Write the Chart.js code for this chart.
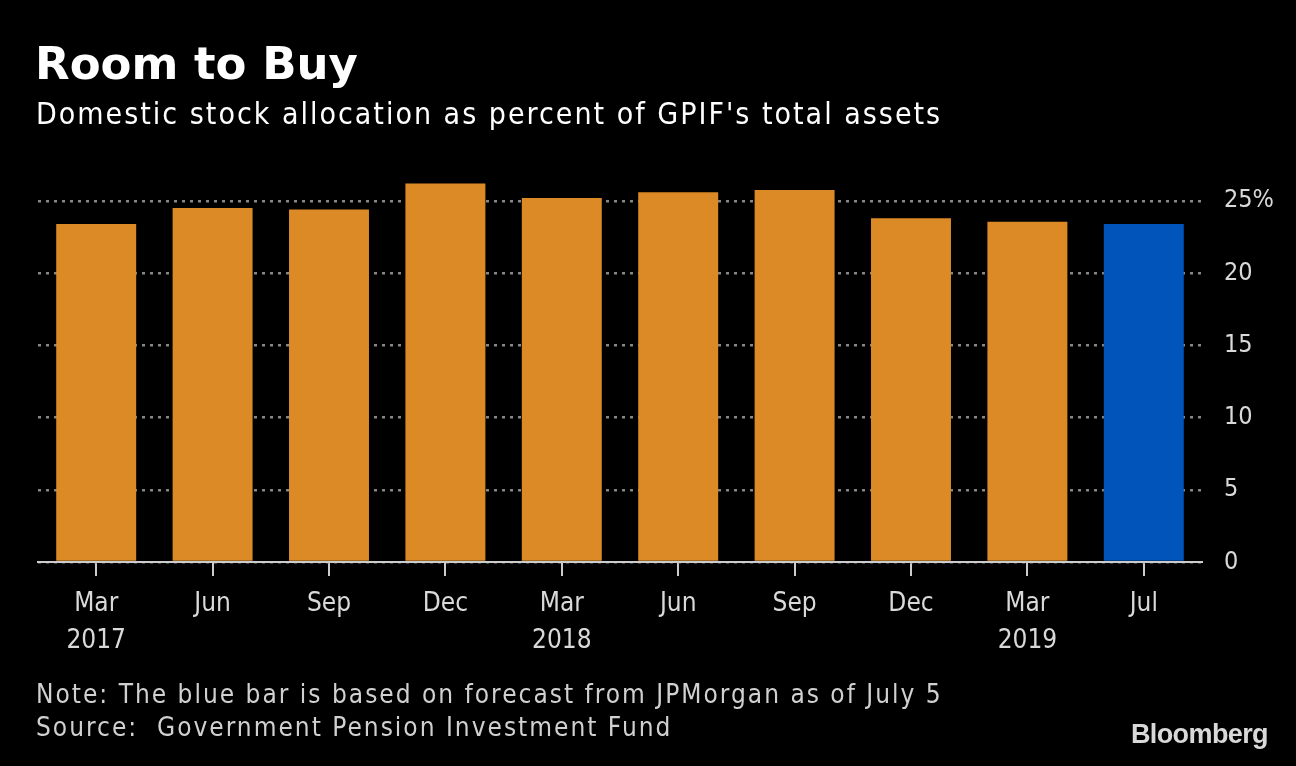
<!DOCTYPE html>
<html>
<head>
<meta charset="utf-8">
<script src="https://cdn.jsdelivr.net/npm/chart.js@4/dist/chart.umd.min.js"></script>
<style>
  html,body{margin:0;padding:0;background:#000;width:1296px;height:766px;overflow:hidden;}
  #wrap{position:absolute;left:0;top:0;width:1296px;height:766px;}
  .t{position:absolute;color:#fff;white-space:nowrap;font-family:"DejaVu Sans Condensed","DejaVu Sans",sans-serif;}
  #title{left:35px;top:37px;font-size:45px;font-weight:bold;font-family:"DejaVu Sans","Liberation Sans",sans-serif;}
  #sub{left:36px;top:96px;font-size:30px;letter-spacing:2px;}
  #note{left:36px;top:678px;font-size:26px;color:#d0d0d0;line-height:33px;letter-spacing:2px;}
  #logo{right:28px;top:719px;font-size:27px;font-weight:bold;color:#d9d9d9;font-family:"Liberation Sans",Arial,sans-serif;letter-spacing:-0.6px;}
</style>
</head>
<body>
<div id="wrap"><canvas id="c" width="1296" height="766"></canvas></div>
<div class="t" id="title">Room to Buy</div>
<div class="t" id="sub">Domestic stock allocation as percent of GPIF's total assets</div>
<div class="t" id="note">Note: The blue bar is based on forecast from JPMorgan as of July 5<br>Source:&nbsp; Government Pension Investment Fund</div>
<div class="t" id="logo">Bloomberg</div>
<script>
const months = ["Mar","Jun","Sep","Dec","Mar","Jun","Sep","Dec","Mar","Jul"];
const years  = ["2017","","","","2018","","","","2019",""];
const allocation = [23.4, 24.5, 24.4, 26.2, 25.2, 25.6, 25.75, 23.8, 23.55, 23.4];
const barColors = ["#DB8A26","#DB8A26","#DB8A26","#DB8A26","#DB8A26","#DB8A26","#DB8A26","#DB8A26","#DB8A26","#0054BA"];
const yTicks = [0,5,10,15,20,25];

const labels = months.map((m,i)=> years[i] ? [m, years[i]] : [m]);
const FONT = '"DejaVu Sans Condensed","DejaVu Sans",sans-serif';

new Chart(document.getElementById('c'), {
  type: 'bar',
  data: {
    labels: labels,
    datasets: [{
      data: allocation,
      backgroundColor: barColors,
      borderWidth: 0,
      barPercentage: 0.687,
      categoryPercentage: 1.0
    }]
  },
  options: {
    responsive: false,
    animation: false,
    devicePixelRatio: 1,
    layout: { padding: { left: 38, top: 172, right: 0, bottom: 104 } },
    plugins: { legend: { display: false }, tooltip: { enabled: false } },
    scales: {
      x: {
        offset: true,
        grid: { display: true, drawOnChartArea: false, drawTicks: true, tickLength: 14, color: '#cccccc', lineWidth: 2, offset: false },
        border: { display: true, color: '#cccccc', width: 2 },
        ticks: { color: '#d9d9d9', font: { family: FONT, size: 26, lineHeight: 1.45 }, padding: 9, maxRotation: 0, autoSkip: false },
        afterFit: (s) => { s.height = 100; }
      },
      y: {
        position: 'right',
        min: 0,
        max: 27,
        afterBuildTicks: (s) => { s.ticks = yTicks.map(v => ({ value: v })); },
        grid: { display: true, drawTicks: false, color: '#858585', lineWidth: 2.5 },
        border: { display: false, dash: [3,5] },
        ticks: {
          color: '#d9d9d9',
          font: { family: FONT, size: 25 },
          padding: 22,
          callback: (v) => v === 25 ? '25%' : String(v)
        },
        afterFit: (s) => { s.width = 94; }
      }
    }
  }
});
</script>
</body>
</html>
